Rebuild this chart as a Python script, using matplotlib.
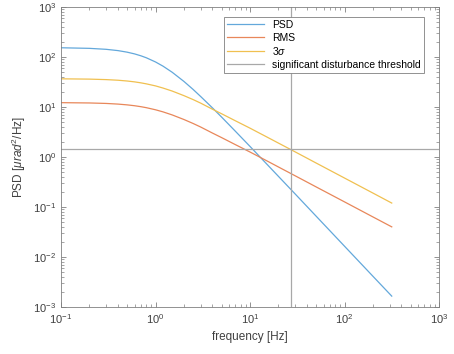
import matplotlib
matplotlib.use("Agg")
import matplotlib.pyplot as plt
import matplotlib.ticker as ticker

plt.rcParams.update({
    "font.family": ["Liberation Sans", "DejaVu Sans"],
    "mathtext.fontset": "custom",
    "mathtext.rm": "Liberation Sans",
    "mathtext.it": "Liberation Sans:italic",
    "font.size": 8,
    "axes.edgecolor": "#808080",
    "xtick.color": "#808080",
    "ytick.color": "#808080",
    "xtick.labelcolor": "#404040",
    "ytick.labelcolor": "#404040",
})

# ── Datos ─────────────────────────────────────────────────────────
freq = [0.1, 0.2, 0.3, 0.4, 0.5, 0.6, 0.7, 0.8, 1.0, 1.2, 1.5, 2, 2.5,
        3, 4, 5, 7, 10, 15, 20, 30, 50, 100, 200, 316]
psd = [153.5, 149.4, 142.9, 134.7, 125.4, 115.7, 106.0, 96.7, 79.8, 65.8,
       49.7, 32.5, 22.5, 16.3, 9.64, 6.31, 3.28, 1.63, 0.727, 0.41, 0.183,
       0.0658, 0.01644, 0.00411, 0.00165]
rms = [12.24, 12.07, 11.81, 11.46, 11.06, 10.63, 10.17, 9.71, 8.82, 8.01,
       6.96, 5.63, 4.69, 3.99, 3.02, 2.45, 1.77, 1.26, 0.843, 0.632, 0.422,
       0.253, 0.1267, 0.0633, 0.0401]
sigma3 = [36.7, 36.2, 35.4, 34.4, 33.2, 31.9, 30.5, 29.1, 26.5, 24.0, 20.9,
          16.9, 14.1, 12.0, 9.06, 7.35, 5.31, 3.78, 2.53, 1.90, 1.27, 0.76,
          0.38, 0.19, 0.12]
f_umbral = 27.0
psd_umbral = 1.45
xticks = [0.1, 1, 10, 100, 1000]
yticks = [1e-3, 1e-2, 1e-1, 1, 10, 100, 1000]

fig = plt.figure(figsize=(4.54, 3.54), dpi=100)
ax = fig.add_axes([0.1344, 0.1328, 0.8326, 0.8472])

ax.plot(freq, psd, color="#63A8DB", lw=0.9, label="PSD")
ax.plot(freq, rms, color="#E8875A", lw=0.9, label="RMS")
ax.plot(freq, sigma3, color="#F0C050", lw=0.9, label=r"3$\mathit{\sigma}$")
ax.axhline(psd_umbral, color="#A8A8A8", lw=0.9,
           label="significant disturbance threshold")
ax.axvline(f_umbral, color="#A8A8A8", lw=0.9)

ax.set_xscale("log")
ax.set_yscale("log")
ax.set_xlim(0.1, 1000)
ax.set_ylim(1e-3, 1e3)
ax.xaxis.set_major_locator(ticker.FixedLocator(xticks))
ax.yaxis.set_major_locator(ticker.FixedLocator(yticks))
ax.xaxis.set_major_formatter(ticker.LogFormatterSciNotation())
ax.yaxis.set_major_formatter(ticker.LogFormatterSciNotation())
ax.xaxis.set_minor_formatter(ticker.NullFormatter())
ax.yaxis.set_minor_formatter(ticker.NullFormatter())
ax.tick_params(which="both", direction="in", top=True, right=True, labelsize=8)
ax.tick_params(which="major", length=3.5, width=0.6)
ax.tick_params(which="minor", length=2, width=0.5)
for s in ax.spines.values():
    s.set_linewidth(0.6)

ax.set_xlabel("frequency [Hz]", color="#404040", fontsize=8.5)
ax.set_ylabel(r"PSD [$\mathit{\mu rad}^2$/Hz]", color="#404040", fontsize=8.5)

leg = ax.legend(loc="upper right", fontsize=7.5, fancybox=False,
                framealpha=1, edgecolor="#808080", handlelength=3.6,
                borderpad=0.3, labelspacing=0.25, bbox_to_anchor=(0.975, 0.985))
leg.get_frame().set_linewidth(0.6)

fig.savefig("out.png", dpi=100)
